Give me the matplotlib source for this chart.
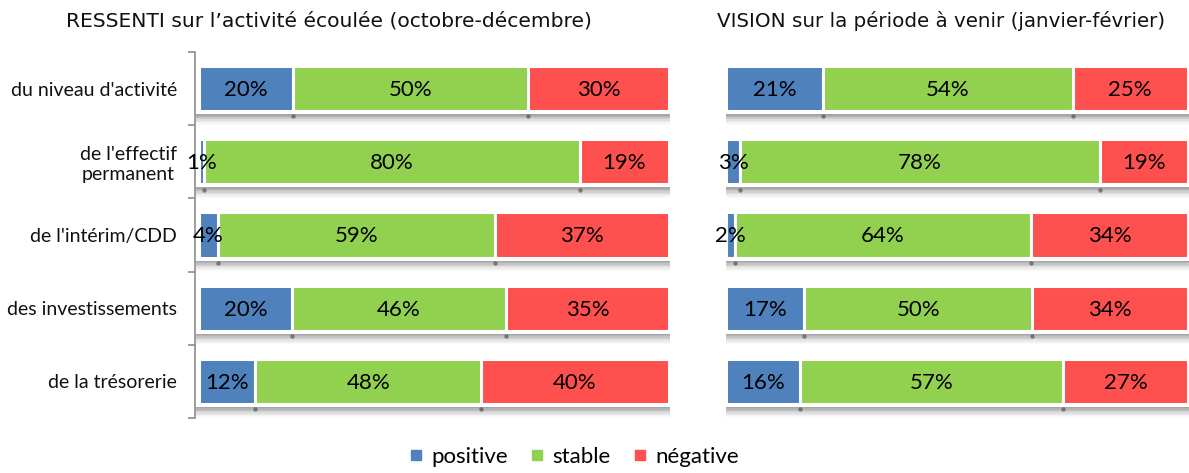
import numpy as np
import matplotlib.pyplot as plt
from matplotlib.lines import Line2D

plt.rcParams['font.family'] = ['Lato', 'DejaVu Sans']

# données
categories = ["du niveau d'activité", "de l'effectif\npermanent", "de l'intérim/CDD",
              "des investissements", "de la trésorerie"]
series = ['positive', 'stable', 'négative']
colors = ['#4F81BD', '#92D050', '#FF5050']

ressenti_pos = [20, 1, 4, 20, 12]
ressenti_stable = [50, 80, 59, 46, 48]
ressenti_neg = [30, 19, 37, 35, 40]

vision_pos = [21, 3, 2, 17, 16]
vision_stable = [54, 78, 64, 50, 57]
vision_neg = [25, 19, 34, 34, 27]

title_left = "RESSENTI sur l’activité écoulée (octobre-décembre)"
title_right = "VISION sur la période à venir (janvier-février)"

W, H = 1189, 473
fig = plt.figure(figsize=(W / 100, H / 100), dpi=100)


def px_axes(x0, x1, y0, y1):
    # position en pixels -> fraction de figure
    return fig.add_axes([x0 / W, 1 - y1 / H, (x1 - x0) / W, (y1 - y0) / H])


def draw_panel(ax, pos, stable, neg, show_axis):
    data = np.array([pos, stable, neg], dtype=float)
    data = data / data.sum(axis=0) * 100  # barres empilées 100 %
    y = np.arange(len(categories))
    h = 0.62

    # ombre grise sous chaque barre
    prof = [0.6, 0.5, 0.4, 0.3, 0.22, 0.14, 0.08, 0.04]
    for yi in y:
        top = yi + h / 2 + 0.04
        for k, a in enumerate(prof):
            ax.fill_between([-0.6, 100.5], top + k * 0.018, top + (k + 1) * 0.018,
                            color='#6b6b6b', alpha=a, lw=0, zorder=1)
    left = np.zeros(len(categories))
    for i in range(3):
        ax.barh(y, data[i], left=left, height=h, color=colors[i],
                edgecolor='white', linewidth=2.2, zorder=3)
        for yi, l, v, lab in zip(y, left, data[i], [pos, stable, neg][i]):
            ax.text(l + v / 2, yi + 0.02, f"{lab}%", ha='center', va='center',
                    fontsize=16, color='black', zorder=5)
        left = left + data[i]
        if i < 2:
            # petites marques sombres aux jonctions dans l'ombre
            ax.scatter(left, y + h / 2 + 0.07, s=10, marker='o', color='#444444',
                       alpha=0.6, lw=0, zorder=2)

    ax.set_xlim(-0.85 if show_axis else 0, 100)
    ax.set_ylim(len(categories) - 0.5, -0.5)
    ax.set_xticks([])
    for s in ['top', 'right', 'bottom']:
        ax.spines[s].set_visible(False)
    if show_axis:
        ax.spines['left'].set_color('#8c8c8c')
        ax.spines['left'].set_linewidth(1.2)
        ax.set_yticks(y)
        ax.set_yticklabels(categories, fontsize=14, color='#111111',
                           multialignment='center')
        ax.tick_params(axis='y', which='major', length=0, pad=13)
        ax.set_yticks(np.arange(len(categories) + 1) - 0.5, minor=True)
        ax.tick_params(axis='y', which='minor', length=5, width=1.2, color='#8c8c8c')
    else:
        ax.spines['left'].set_visible(False)
        ax.set_yticks([])


ax1 = px_axes(195, 669, 52, 418)
draw_panel(ax1, ressenti_pos, ressenti_stable, ressenti_neg, True)
ax2 = px_axes(726, 1188, 52, 418)
draw_panel(ax2, vision_pos, vision_stable, vision_neg, False)

fig.text(66 / W, 1 - 21 / H, title_left, ha='left', va='center', fontsize=14.6,
         family=['DejaVu Sans'], color='#111111')
fig.text(941 / W, 1 - 21 / H, title_right, ha='center', va='center', fontsize=14.3,
         family=['DejaVu Sans'], color='#111111')

handles = [Line2D([], [], marker='s', ls='', color=c, markersize=7) for c in colors]
fig.legend(handles, series, loc='center', bbox_to_anchor=(572 / W, 1 - 457 / H),
           ncol=3, frameon=False, fontsize=16, handletextpad=0.2, columnspacing=0.8,
           handlelength=1.0)

fig.savefig('out.png', dpi=100)
